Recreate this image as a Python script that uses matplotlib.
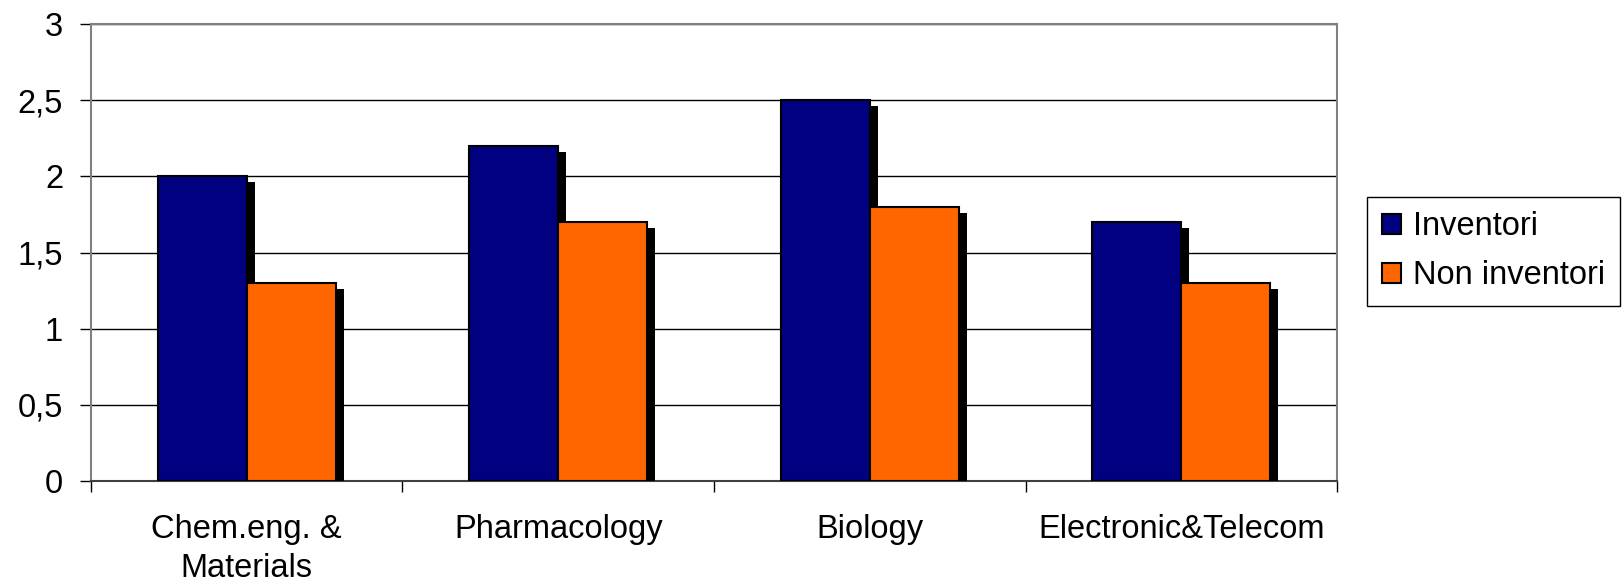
import numpy as np
import matplotlib.pyplot as plt
import matplotlib.patheffects as pe

# Data
categories = ["Chem.eng. &\nMaterials", "Pharmacology", "Biology", "Electronic&Telecom"]
inventori = [2.0, 2.2, 2.5, 1.7]
non_inventori = [1.3, 1.7, 1.8, 1.3]
series_names = ["Inventori", "Non inventori"]
y_ticks = [0, 0.5, 1, 1.5, 2, 2.5, 3]
y_ticklabels = ["0", "0,5", "1", "1,5", "2", "2,5", "3"]

plt.rcParams['font.family'] = ['Liberation Sans', 'DejaVu Sans']

fig = plt.figure(figsize=(16.22, 5.86), dpi=100)
ax = fig.add_axes([0.0561, 0.1792, 0.7682, 0.7798])

x = np.arange(len(categories))
width = 1 / 3.5  # Excel-style gap width of 150%

shadow = [pe.SimplePatchShadow(offset=(5.8, -4.3), shadow_rgbFace='black', alpha=1.0),
          pe.Normal()]

ax.bar(x - width / 2, inventori, width, color='#000080', edgecolor='black',
       linewidth=1.5, label=series_names[0], path_effects=shadow, zorder=3)
ax.bar(x + width / 2, non_inventori, width, color='#FF6600', edgecolor='black',
       linewidth=1.5, label=series_names[1], path_effects=shadow, zorder=3)

ax.set_xlim(-0.5, len(categories) - 0.5)
ax.set_ylim(0, 3)

# y axis with comma decimals
ax.set_yticks(y_ticks)
ax.set_yticklabels(y_ticklabels)
ax.tick_params(axis='y', direction='out', length=8, width=1, color='black',
               labelsize=23.5, pad=12)
ax.yaxis.grid(True, color='black', linewidth=1)
ax.set_axisbelow(True)

# x axis: ticks at category boundaries, labels at centres
ax.set_xticks(np.arange(len(categories) + 1) - 0.5)
ax.set_xticklabels([])
ax.set_xticks(x, minor=True)
ax.set_xticklabels(categories, minor=True, linespacing=1.32)
ax.tick_params(axis='x', which='major', direction='out', length=8, width=1, color='black')
ax.tick_params(axis='x', which='minor', length=0, labelsize=23.5, pad=24)

for side in ['top', 'right', 'left']:
    ax.spines[side].set_color('#808080')
    ax.spines[side].set_linewidth(1.5)
ax.spines['bottom'].set_color('#404040')
ax.spines['bottom'].set_linewidth(1.5)

leg = ax.legend(loc='center left', bbox_to_anchor=(0.8428, 0.571),
                bbox_transform=fig.transFigure, fontsize=23.5, frameon=True,
                fancybox=False, framealpha=1, edgecolor='black',
                handlelength=0.6, handleheight=0.6, handletextpad=0.35,
                borderpad=0.45, labelspacing=0.55, borderaxespad=0)
leg.get_frame().set_linewidth(1)
for h in leg.legend_handles:
    h.set_path_effects([])

fig.savefig('out.png', dpi=100)
